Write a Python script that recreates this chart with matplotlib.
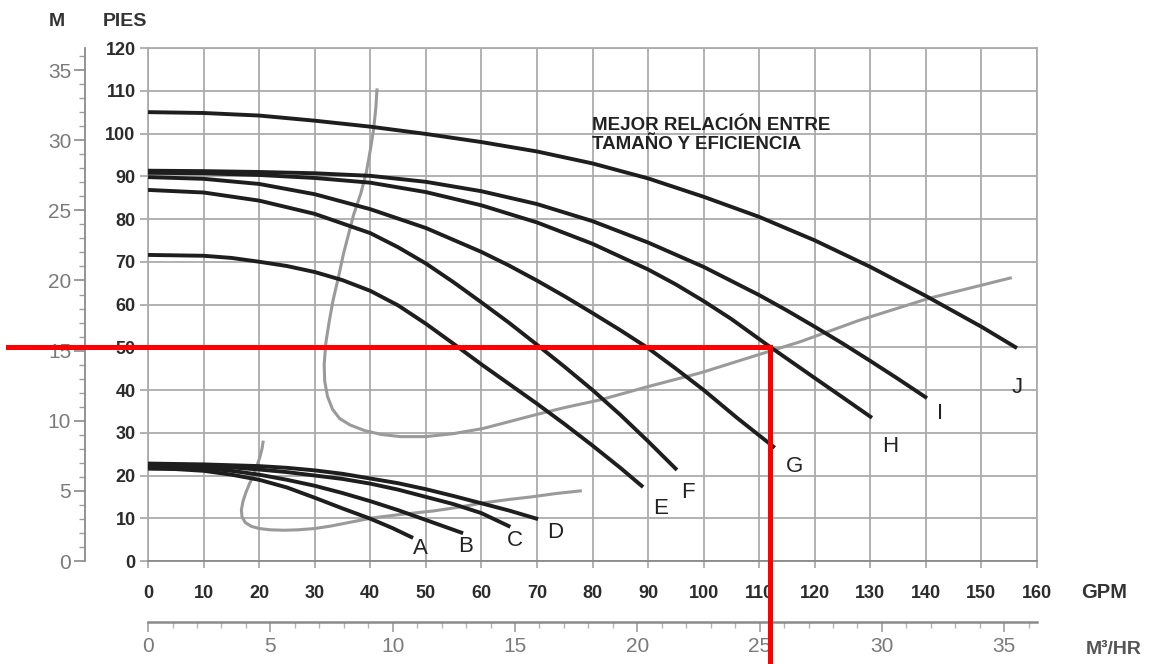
import matplotlib
matplotlib.use("Agg")
import matplotlib.pyplot as plt
import numpy as np
from matplotlib.ticker import MultipleLocator

plt.rcParams['font.family'] = ['Liberation Sans', 'DejaVu Sans']

# pump curves, flow in GPM and head in feet (PIES)
a_gpm = [0, 5, 10, 15, 20, 25, 30, 35, 40, 44, 47.7]
a_ft = [21.6, 21.5, 21.1, 20.2, 19.0, 17.2, 14.8, 12.3, 9.9, 7.7, 5.4]
b_gpm = [0, 5, 10, 15, 20, 25, 30, 35, 40, 45, 50, 56.7]
b_ft = [22.0, 21.9, 21.7, 21.1, 20.2, 19.0, 17.6, 15.9, 14.0, 11.9, 9.6, 6.5]
c_gpm = [0, 10, 15, 20, 25, 30, 35, 40, 45, 50, 55, 60, 65.2]
c_ft = [22.4, 22.2, 21.9, 21.4, 20.8, 20.0, 19.2, 18.1, 16.7, 15.0, 13.3, 11.2, 8.0]
d_gpm = [0, 10, 20, 25, 30, 35, 40, 45, 50, 55, 60, 65, 70.2]
d_ft = [22.8, 22.6, 22.2, 21.8, 21.2, 20.4, 19.3, 18.2, 16.8, 15.2, 13.5, 11.8, 9.8]
e_gpm = [0, 10, 15, 20, 25, 30, 35, 40, 45, 50, 55, 60, 65, 70, 75, 80, 85, 89.1]
e_ft = [71.6, 71.4, 70.9, 70.0, 69.0, 67.6, 65.7, 63.2, 59.8, 55.5, 50.8, 46.0, 41.4, 36.8, 32.0, 27.0, 21.8, 17.3]
f_gpm = [0, 10, 20, 30, 40, 45, 50, 55, 60, 65, 70, 75, 80, 85, 90, 95.2]
f_ft = [86.8, 86.2, 84.3, 81.2, 76.7, 73.4, 69.6, 65.2, 60.5, 55.7, 50.6, 45.4, 40.0, 34.2, 28.0, 21.3]
g_gpm = [0, 10, 20, 30, 40, 50, 60, 65, 70, 75, 80, 85, 90, 95, 100, 106, 112.8]
g_ft = [89.8, 89.4, 88.2, 85.8, 82.3, 77.9, 72.3, 69.1, 65.6, 61.9, 58.0, 54.0, 49.8, 45.0, 40.0, 33.5, 26.5]
h_gpm = [0, 10, 20, 30, 40, 50, 60, 70, 80, 90, 95, 100, 105, 111.4, 120, 125, 130.3]
h_ft = [90.8, 90.7, 90.3, 89.6, 88.5, 86.3, 83.2, 79.2, 74.2, 68.2, 64.7, 60.8, 56.6, 50.6, 42.8, 38.3, 33.5]
i_gpm = [0, 10, 20, 30, 40, 50, 60, 70, 80, 90, 100, 110, 115, 120, 125, 130, 135, 140.2]
i_ft = [91.3, 91.2, 91.0, 90.7, 90.1, 88.7, 86.5, 83.5, 79.5, 74.5, 68.8, 62.2, 58.6, 54.8, 50.9, 46.8, 42.6, 38.1]
j_gpm = [0, 10, 20, 30, 40, 50, 60, 70, 80, 90, 100, 110, 120, 130, 140, 150, 156.4]
j_ft = [105.0, 104.8, 104.2, 103.0, 101.6, 99.9, 98.0, 95.8, 93.0, 89.5, 85.2, 80.5, 75.0, 68.8, 62.0, 54.8, 49.8]

curves = [(a_gpm, a_ft), (b_gpm, b_ft), (c_gpm, c_ft), (d_gpm, d_ft), (e_gpm, e_ft),
          (f_gpm, f_ft), (g_gpm, g_ft), (h_gpm, h_ft), (i_gpm, i_ft), (j_gpm, j_ft)]

curve_names = ['A', 'B', 'C', 'D', 'E', 'F', 'G', 'H', 'I', 'J']
name_gpm = [49, 57.2, 66, 73.3, 92.2, 97.2, 116.4, 133.5, 142.6, 156.4]
name_ft = [3.0, 3.5, 4.9, 6.6, 12.4, 16.1, 22.2, 26.9, 34.6, 40.5]

# best efficiency (gray) curves
small_eff_gpm = [20.7, 20.5, 20.1, 19.6, 19.0, 18.3, 17.6, 17.1, 16.8, 16.9, 17.5, 18.6, 20.0,
                 22.0, 24.5, 27, 30, 33, 36.5, 40.5, 45.5, 51.3, 56, 60.3, 65, 69, 73.5, 77.8]
small_eff_ft = [27.8, 26.2, 24.2, 22.2, 20.2, 18.2, 16.0, 14.0, 12.0, 10.4, 9.0, 8.1, 7.6,
                7.3, 7.2, 7.3, 7.6, 8.2, 9.1, 10.1, 10.9, 11.7, 12.6, 13.6, 14.4, 15.0, 15.8, 16.4]
big_eff_gpm = [41.2, 41.0, 40.6, 40.0, 39.3, 38.3, 37.0, 36.0, 35.2, 34.2, 33.3, 32.6, 32.0,
               31.7, 31.8, 32.3, 33.2, 34.5, 36.4, 39.0, 42.0, 45.4, 50, 55, 60.3, 65, 70,
               75, 81.4, 90, 99.4, 108, 117.4, 128, 140.7, 155.2]
big_eff_ft = [110.2, 106.0, 101.0, 96.1, 91.0, 86.0, 81.0, 76.0, 72.0, 66.0, 61.0, 56.0, 51.0,
              46.0, 42.0, 38.5, 35.5, 33.3, 31.8, 30.5, 29.6, 29.1, 29.1, 29.8, 31.0, 32.6, 34.3,
              35.9, 37.7, 40.8, 44.0, 47.5, 51.3, 56.3, 61.5, 66.2]

# red operating point marker
op_gpm = 112
op_ft = 50

FT_PER_M = 3.28084
GPM_PER_M3H = 4.40287

fig = plt.figure(figsize=(11.54, 6.64), dpi=100)
ax = fig.add_axes([0.1283, 0.1551, 0.7703, 0.7726])
ax.set_xlim(0, 160)
ax.set_ylim(0, 120)

gridc = '#ababab'
ax.set_xticks(np.arange(0, 161, 10))
ax.set_yticks(np.arange(0, 121, 10))
ax.grid(True, color=gridc, lw=1.3)
for s in ax.spines.values():
    s.set_color(gridc)
    s.set_linewidth(1.3)
ax.spines['bottom'].set_color('#8a8a8a')
ax.tick_params(axis='both', colors=gridc, labelcolor='#2b2b2b', labelsize=13, width=1.3)
ax.tick_params(axis='y', length=6, pad=3)
ax.tick_params(axis='x', length=5, pad=12)
for lb in ax.get_xticklabels() + ax.get_yticklabels():
    lb.set_fontweight('bold')

for x, y in curves:
    ax.plot(x, y, color='#1e1e1e', lw=2.8, solid_capstyle='butt', solid_joinstyle='round', zorder=3)
ax.plot(small_eff_gpm, small_eff_ft, color='#9a9a9a', lw=2.2, solid_joinstyle='round', zorder=2)
ax.plot(big_eff_gpm, big_eff_ft, color='#9a9a9a', lw=2.2, solid_joinstyle='round', zorder=2)

for n, x, y in zip(curve_names, name_gpm, name_ft):
    ax.text(x, y, n, fontsize=16, color='#222222', ha='center', va='center', zorder=4)

ax.text(79.9, 103.8, 'MEJOR RELACIÓN ENTRE\nTAMAÑO Y EFICIENCIA', fontsize=13.5, fontweight='bold',
        color='#222222', ha='left', va='top', linespacing=1.1)

# meters axis on the left
secy = ax.secondary_yaxis(-0.0709, functions=(lambda f: f / FT_PER_M, lambda m: m * FT_PER_M))
secy.set_yticks(np.arange(0, 36, 5))
secy.yaxis.set_minor_locator(MultipleLocator(1))
secy.spines['left'].set_color('#8a8a8a')
secy.spines['left'].set_linewidth(1.3)
secy.tick_params(axis='y', which='major', length=8, width=1.2, color='#8a8a8a',
                 labelcolor='#7a7a7a', labelsize=15, pad=2)
secy.tick_params(axis='y', which='minor', length=4, width=1.0, color='#a0a0a0')

# m3/hr axis at the bottom
secx = ax.secondary_xaxis(-0.119, functions=(lambda g: g / GPM_PER_M3H, lambda q: q * GPM_PER_M3H))
secx.set_xticks(np.arange(0, 36, 5))
secx.xaxis.set_minor_locator(MultipleLocator(1))
secx.spines['bottom'].set_color('#8a8a8a')
secx.spines['bottom'].set_linewidth(1.8)
secx.tick_params(axis='x', which='major', length=7, width=1.2, color='#a0a0a0',
                 labelcolor='#7a7a7a', labelsize=15, pad=4)
secx.tick_params(axis='x', which='minor', length=4, width=1.0, color='#b5b5b5')

fig.text(57 / 1154, 1 - 22 / 664, 'M', fontsize=14, fontweight='bold', color='#333333',
         ha='center', va='center')
fig.text(125 / 1154, 1 - 22 / 664, 'PIES', fontsize=14, fontweight='bold', color='#333333',
         ha='center', va='center')
fig.text(1104 / 1154, 1 - 593 / 664, 'GPM', fontsize=14.5, fontweight='bold', color='#333333',
         ha='center', va='center')
fig.text(1114 / 1154, 1 - 650 / 664, 'M³/HR', fontsize=14, fontweight='bold', color='#555555',
         ha='center', va='center')

# red guide lines running off the axes to the picture edge
inv = ax.transData.inverted()
x_left = inv.transform(fig.transFigure.transform((8 / 1154, 0)))[0]
y_bottom = inv.transform(fig.transFigure.transform((0, 0)))[1]
ax.plot([x_left, op_gpm, op_gpm], [op_ft, op_ft, y_bottom], color='#ff0000', lw=3.6,
        clip_on=False, solid_joinstyle='miter', zorder=5)

fig.savefig('out.png', dpi=100)
